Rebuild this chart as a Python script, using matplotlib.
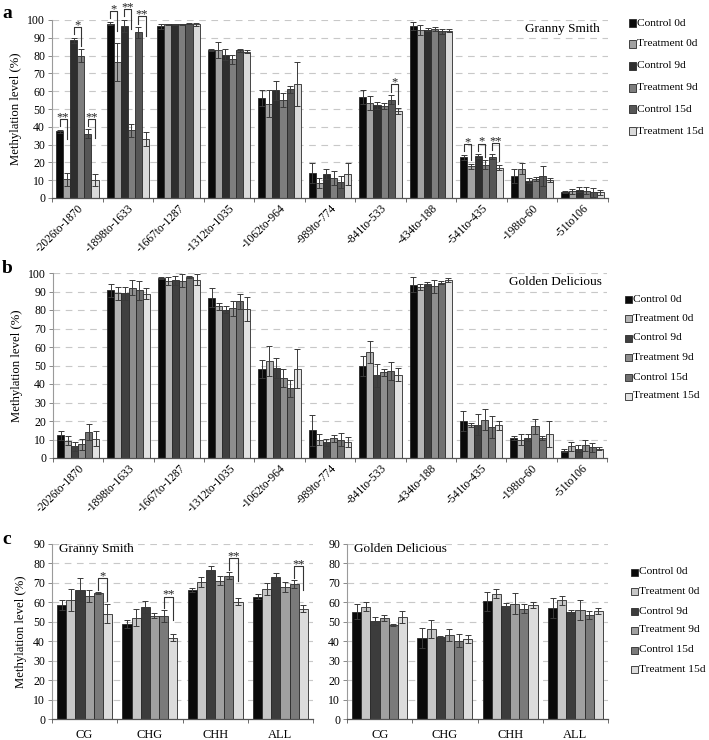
import numpy as np
import matplotlib
matplotlib.use("Agg")
import matplotlib.pyplot as plt
from matplotlib.patches import Rectangle
from matplotlib.lines import Line2D

plt.rcParams['font.family'] = ['Liberation Serif', 'DejaVu Serif']

series = ["Control 0d", "Treatment 0d", "Control 9d", "Treatment 9d", "Control 15d", "Treatment 15d"]
regions = ["-2026to-1870", "-1898to-1633", "-1667to-1287", "-1312to-1035", "-1062to-964",
           "-989to-774", "-841to-533", "-434to-188", "-541to-435", "-198to-60", "-51to106"]
contexts = ["CG", "CHG", "CHH", "ALL"]

# Panel a: Granny Smith, per region (rows = series)
a_vals = [
    [37.4, 98.0, 96.5, 83.0, 56.2, 14.0, 56.6, 96.6, 22.9, 12.5, 3.2],
    [10.5, 76.5, 97.5, 83.0, 53.0, 8.4, 53.4, 94.4, 17.7, 16.4, 3.7],
    [88.5, 96.5, 97.5, 80.5, 60.5, 13.4, 52.0, 94.6, 23.6, 9.7, 4.7],
    [80.0, 38.0, 97.5, 78.0, 55.0, 11.2, 51.6, 95.0, 18.6, 10.8, 4.0],
    [36.0, 93.0, 98.0, 82.9, 61.0, 9.0, 55.3, 93.7, 23.3, 12.5, 3.2],
    [10.0, 33.0, 97.5, 82.3, 64.0, 13.4, 48.8, 94.0, 17.1, 10.2, 3.2],
]
a_err = [
    [1.0, 1.0, 1.5, 0.5, 4.3, 5.6, 4.0, 2.0, 1.5, 4.0, 0.5],
    [3.5, 10.5, 0.5, 4.5, 7.5, 3.0, 4.0, 3.0, 1.5, 3.0, 1.5],
    [1.5, 3.5, 0.5, 3.0, 5.5, 3.0, 2.0, 1.0, 1.0, 1.5, 1.5],
    [3.5, 3.5, 0.5, 2.5, 4.0, 4.0, 1.5, 1.0, 2.5, 1.0, 2.0],
    [2.5, 3.0, 0.3, 1.0, 2.0, 3.5, 2.5, 1.5, 1.5, 5.5, 2.5],
    [3.5, 4.0, 1.0, 1.0, 12.5, 6.0, 1.5, 1.0, 1.5, 1.0, 1.5],
]
# significance: (group index, first series index, label)
a_sig = [(0, 0, "**"), (0, 2, "*"), (0, 4, "**"),
         (1, 0, "*"), (1, 2, "**"), (1, 4, "**"),
         (6, 4, "*"),
         (8, 0, "*"), (8, 2, "*"), (8, 4, "**")]

# Panel b: Golden Delicious, per region
b_vals = [
    [12.3, 90.6, 97.3, 86.7, 48.2, 14.9, 49.6, 93.7, 20.1, 11.0, 4.0],
    [9.3, 89.0, 95.7, 82.0, 52.5, 10.0, 57.5, 92.4, 17.7, 10.0, 6.4],
    [6.4, 89.0, 96.0, 80.2, 48.5, 8.4, 44.6, 93.9, 18.1, 11.0, 5.1],
    [7.5, 92.0, 95.7, 81.0, 43.3, 10.7, 46.3, 92.8, 20.8, 17.2, 6.9],
    [14.0, 90.6, 97.8, 84.8, 37.6, 10.0, 47.1, 94.8, 16.8, 11.0, 5.7],
    [10.4, 88.8, 96.4, 80.4, 48.2, 8.6, 44.9, 96.2, 17.7, 13.2, 5.1],
]
b_err = [
    [2.5, 3.5, 0.8, 5.0, 5.0, 8.5, 5.5, 4.0, 5.5, 1.0, 1.0],
    [2.5, 3.5, 2.0, 2.0, 8.0, 3.0, 6.0, 1.5, 1.0, 3.0, 2.5],
    [2.5, 3.5, 2.5, 2.0, 5.5, 2.0, 6.0, 1.0, 5.5, 2.0, 2.0],
    [3.0, 4.0, 3.5, 4.0, 5.0, 2.0, 2.0, 3.5, 5.5, 4.0, 3.0],
    [4.5, 5.0, 0.5, 4.0, 4.5, 3.5, 5.0, 1.0, 6.0, 1.0, 2.5],
    [4.0, 3.0, 3.0, 6.5, 10.5, 2.5, 3.5, 1.0, 2.5, 7.0, 1.0],
]

# Panel c: per context
c_gs_vals = [
    [58.5, 48.9, 66.5, 63.0],
    [61.2, 52.2, 70.3, 66.7],
    [66.5, 57.5, 76.8, 72.8],
    [63.2, 53.2, 71.2, 68.0],
    [64.8, 53.0, 73.8, 69.5],
    [54.2, 41.9, 60.4, 56.8],
]
c_gs_err = [
    [2.5, 2.0, 1.0, 1.5],
    [5.5, 4.5, 2.5, 3.0],
    [6.0, 3.0, 2.0, 2.5],
    [3.0, 1.5, 2.5, 2.5],
    [0.7, 3.0, 2.0, 2.0],
    [5.0, 2.0, 2.0, 2.0],
]
c_gs_sig = [(0, 4, "*"), (1, 4, "**"), (2, 4, "**"), (3, 4, "**")]

c_gd_vals = [
    [55.2, 41.6, 60.5, 57.0],
    [57.8, 46.4, 64.5, 61.0],
    [50.6, 42.1, 58.0, 55.0],
    [51.8, 43.1, 59.4, 56.0],
    [48.2, 40.3, 56.8, 53.6],
    [52.3, 41.1, 58.6, 55.4],
]
c_gd_err = [
    [4.0, 5.0, 5.0, 5.0],
    [2.5, 4.5, 2.5, 2.5],
    [2.0, 0.5, 1.5, 1.0],
    [1.5, 3.0, 5.5, 5.0],
    [0.5, 3.5, 2.5, 2.0],
    [3.0, 2.0, 1.5, 1.5],
]

pal_a = ["#0a0a0a", "#a2a2a2", "#2e2e2e", "#7e7e7e", "#565656", "#dadada"]
pal_b = ["#0a0a0a", "#b4b4b4", "#404040", "#8e8e8e", "#707070", "#e2e2e2"]
pal_c = ["#0a0a0a", "#c6c6c6", "#3c3c3c", "#a0a0a0", "#7a7a7a", "#dcdcdc"]

W, H = 709, 740
fig = plt.figure(figsize=(W / 100, H / 100), dpi=100)


def ax_at(l, t, r, b):
    return fig.add_axes([l / W, 1 - b / H, (r - l) / W, (b - t) / H])


def style_axes(ax, ymax, step, ngroups, xlabels, rot):
    ax.set_xlim(-0.5, ngroups - 0.5)
    ax.set_ylim(0, ymax)
    ax.set_yticks(np.arange(0, ymax + 0.1, step))
    for v in np.arange(step, ymax + 0.1, step):
        ax.axhline(v, color="#c8c8c8", lw=0.8, dashes=(6, 5), zorder=0)
    for s in ["top", "right"]:
        ax.spines[s].set_visible(False)
    ax.spines["left"].set_color("#9a9a9a")
    ax.spines["left"].set_linewidth(0.8)
    ax.spines["bottom"].set_color("#555555")
    ax.spines["bottom"].set_linewidth(0.9)
    ax.tick_params(axis="y", labelsize=8.5, length=3, width=0.6, color="#777777", pad=2)
    ax.set_xticks(np.arange(ngroups))
    ax.set_xticks(np.arange(ngroups + 1) - 0.5, minor=True)
    ax.tick_params(axis="x", which="minor", length=3, width=0.6, color="#555555")
    if rot:
        ax.tick_params(axis="x", which="major", length=0, pad=3)
        ax.set_xticklabels(xlabels, rotation=45, ha="right", va="top",
                           rotation_mode="anchor", fontsize=8.3)
    else:
        ax.tick_params(axis="x", which="major", length=0, pad=7)
        ax.set_xticklabels(xlabels, fontsize=9)
    ax.set_ylabel("Methylation level (%)", fontsize=9.2, labelpad=4)


def draw_bars(ax, vals, errs, pal, width=0.14):
    n = len(vals[0])
    x = np.arange(n)
    for i in range(6):
        pos = x + (i - 2.5) * width
        ax.bar(pos, vals[i], width, color=pal[i], edgecolor="#2a2a2a", linewidth=0.6, zorder=2)
        ax.errorbar(pos, vals[i], yerr=errs[i], fmt="none", ecolor="#3a3a3a",
                    elinewidth=0.7, capsize=2.2, capthick=0.7, zorder=3)


def draw_sig(ax, vals, errs, sigs, dh, gap, L, fs, width=0.14):
    for g, i, lab in sigs:
        xa = g + (i - 2.5) * width
        xb = g + (i + 1 - 2.5) * width
        ta = vals[i][g] + errs[i][g]
        tb = vals[i + 1][g] + errs[i + 1][g]
        top = max(ta, tb) + dh
        la = min(ta + gap, top - 1.5)
        lb = max(tb + gap, top - L)
        ax.add_line(Line2D([xa, xa, xb, xb], [la, top, top, lb], color="#333333",
                           lw=0.8, clip_on=False, zorder=4))
        ax.text((xa + xb) / 2, top - 0.6, lab, ha="center", va="baseline", fontsize=fs,
                color="#222222", clip_on=False)


def legend_at(pal, x_marker, y_list):
    for i, (c, lab) in enumerate(zip(pal, series)):
        y = y_list[i]
        fig.patches.append(Rectangle(((x_marker - 3.5) / W, 1 - (y + 3.5) / H), 7 / W, 7 / H,
                                     transform=fig.transFigure, facecolor=c,
                                     edgecolor="#2a2a2a", linewidth=0.6))
        fig.text((x_marker + 5) / W, 1 - y / H, lab, ha="left", va="center", fontsize=8.2)


# Panel a
axa = ax_at(52, 20, 608, 198)
draw_bars(axa, a_vals, a_err, pal_a)
style_axes(axa, 100, 10, 11, regions, True)
draw_sig(axa, a_vals, a_err, a_sig, dh=6, gap=2, L=11, fs=9)
axa.text(0.985, 0.95, "Granny Smith", transform=axa.transAxes, ha="right", va="center", fontsize=9.5)
legend_at(pal_a, 632, [23, 44, 66, 88, 109, 131])
fig.text(2 / W, 1 - 13 / H, "a", fontsize=14, fontweight="bold", ha="left", va="center")

# Panel b
axb = ax_at(53, 273, 607, 458)
draw_bars(axb, b_vals, b_err, pal_b)
style_axes(axb, 100, 10, 11, regions, True)
axb.text(0.99, 0.95, "Golden Delicious", transform=axb.transAxes, ha="right", va="center", fontsize=9.5)
legend_at(pal_b, 628, [299, 319, 338, 357, 377, 396])
fig.text(2 / W, 1 - 269 / H, "b", fontsize=14, fontweight="bold", ha="left", va="center")

# Panel c left
axc1 = ax_at(52, 544, 313, 719)
draw_bars(axc1, c_gs_vals, c_gs_err, pal_c)
style_axes(axc1, 90, 10, 4, contexts, False)
draw_sig(axc1, c_gs_vals, c_gs_err, c_gs_sig, dh=7, gap=1, L=12, fs=9)
axc1.text(0.025, 0.97, "Granny Smith", transform=axc1.transAxes, ha="left", va="center", fontsize=9.5)
fig.text(2 / W, 1 - 540 / H, "c", fontsize=14, fontweight="bold", ha="left", va="center")

# Panel c right
axc2 = ax_at(347, 544, 608, 719)
draw_bars(axc2, c_gd_vals, c_gd_err, pal_c)
style_axes(axc2, 90, 10, 4, contexts, False)
axc2.set_ylabel("")
axc2.text(0.025, 0.97, "Golden Delicious", transform=axc2.transAxes, ha="left", va="center", fontsize=9.5)
legend_at(pal_c, 634, [572, 591, 611, 630, 650, 669])

fig.savefig("out.png", dpi=100)
